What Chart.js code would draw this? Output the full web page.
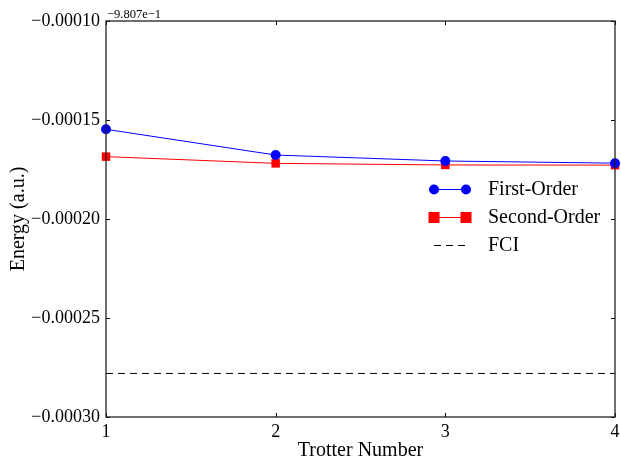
<!DOCTYPE html>
<html>
<head>
  <script src="https://cdn.jsdelivr.net/npm/chart.js"></script>
  <style>
    html, body { margin: 0; padding: 0; background: #fff; }
    #wrap { width: 621px; height: 460px; }
  </style>
</head>
<body>
  <div id="wrap"><canvas id="energyChart" width="621" height="460"></canvas></div>
  <script>
    // Energies relative to the -9.807e-1 offset shown at top of the axis
    const trotterSteps = [1, 2, 3, 4];
    const firstOrder = [-0.0001547, -0.0001677, -0.0001707, -0.0001718];
    const secondOrder = [-0.0001685, -0.0001719, -0.0001727, -0.0001728];
    const fciEnergy = [-0.000278, -0.000278, -0.000278, -0.000278];
    const yTicks = [-0.00030, -0.00025, -0.00020, -0.00015, -0.00010];
    const offsetText = '\u22129.807e\u22121';

    const FONT = '"Liberation Serif", "DejaVu Serif", serif';
    const fmtY = v => '\u2212' + Math.abs(v).toFixed(5);

    const toPoints = ys => trotterSteps.map((x, i) => ({ x, y: ys[i] }));

    // box, inward ticks, offset text and legend, matplotlib classic look
    const framePlugin = {
      id: 'frame',
      afterDraw(chart) {
        const { ctx, chartArea: a, scales } = chart;
        ctx.save();
        ctx.strokeStyle = '#000';
        ctx.lineWidth = 1;
        const tl = 4;
        ctx.beginPath();
        scales.x.ticks.forEach(t => {
          const px = Math.round(scales.x.getPixelForValue(t.value)) + 0.5;
          ctx.moveTo(px, a.bottom); ctx.lineTo(px, a.bottom - tl);
          ctx.moveTo(px, a.top); ctx.lineTo(px, a.top + tl);
        });
        scales.y.ticks.forEach(t => {
          const py = Math.round(scales.y.getPixelForValue(t.value)) + 0.5;
          ctx.moveTo(a.left, py); ctx.lineTo(a.left + tl, py);
          ctx.moveTo(a.right, py); ctx.lineTo(a.right - tl, py);
        });
        ctx.stroke();
        ctx.lineWidth = 1.3;
        ctx.strokeStyle = '#222';
        ctx.strokeRect(a.left, a.top, a.right - a.left, a.bottom - a.top);

        ctx.fillStyle = '#000';
        ctx.font = '12.5px ' + FONT;
        ctx.textAlign = 'left';
        ctx.textBaseline = 'alphabetic';
        ctx.fillText(offsetText, a.left + 1, a.top - 3);

        // legend
        const lx = 434, lx2 = 466, tx = 488;
        let ly = 189;
        ctx.font = '20px ' + FONT;
        ctx.textBaseline = 'middle';
        chart.data.datasets.forEach(ds => {
          ctx.strokeStyle = ds.borderColor;
          ctx.fillStyle = ds.backgroundColor;
          ctx.lineWidth = 1;
          ctx.setLineDash(ds.borderDash || []);
          ctx.beginPath();
          ctx.moveTo(lx, ly + 0.5); ctx.lineTo(lx2, ly + 0.5);
          ctx.stroke();
          ctx.setLineDash([]);
          [lx, lx2].forEach(px => {
            if (ds.pointStyle === 'circle') {
              ctx.beginPath(); ctx.arc(px, ly + 0.5, 5, 0, Math.PI * 2); ctx.fill();
            } else if (ds.pointStyle === 'rect') {
              ctx.fillRect(px - 5.5, ly - 5, 11, 11);
            }
          });
          ctx.fillStyle = '#000';
          ctx.fillText(ds.label, tx, ly + 1);
          ly += 28;
        });
        ctx.restore();
      }
    };

    new Chart(document.getElementById('energyChart'), {
      type: 'line',
      data: {
        datasets: [
          {
            label: 'First-Order', data: toPoints(firstOrder),
            borderColor: '#0000ff', backgroundColor: '#0000ff',
            borderWidth: 1, pointStyle: 'circle', pointRadius: 5, pointBorderWidth: 0
          },
          {
            label: 'Second-Order', data: toPoints(secondOrder),
            borderColor: '#ff0000', backgroundColor: '#ff0000',
            borderWidth: 1, pointStyle: 'rect', pointRadius: 6, pointBorderWidth: 0
          },
          {
            label: 'FCI', data: toPoints(fciEnergy),
            borderColor: '#000000', backgroundColor: '#000000',
            borderWidth: 1, borderDash: [7, 5], pointRadius: 0, pointStyle: false
          }
        ]
      },
      options: {
        responsive: false,
        animation: false,
        clip: false,
        layout: { padding: { top: 21, right: 5, left: 0, bottom: 0 } },
        plugins: { legend: { display: false }, tooltip: { enabled: false } },
        scales: {
          x: {
            type: 'linear', min: 1, max: 4,
            grid: { display: false, drawTicks: false }, border: { display: false },
            ticks: { stepSize: 1, color: '#000', font: { family: FONT, size: 18 }, padding: 4, maxRotation: 0 },
            title: { display: true, text: 'Trotter Number', color: '#000', font: { family: FONT, size: 20 }, padding: { top: 0, bottom: -3 } },
            afterFit: s => { s.height = 43; s.paddingLeft = 0; s.paddingRight = 0; }
          },
          y: {
            type: 'linear', min: -0.00030, max: -0.00010,
            grid: { display: false, drawTicks: false }, border: { display: false },
            afterBuildTicks: s => { s.ticks = yTicks.map(v => ({ value: v })); },
            ticks: { color: '#000', font: { family: FONT, size: 18 }, padding: 6, callback: v => fmtY(v) },
            title: { display: true, text: 'Energy (a.u.)', color: '#000', font: { family: FONT, size: 20 }, padding: { top: 7, bottom: 0 } },
            afterFit: s => { s.width = 106; s.paddingTop = 0; s.paddingBottom = 0; }
          }
        }
      },
      plugins: [framePlugin]
    });
  </script>
</body>
</html>
